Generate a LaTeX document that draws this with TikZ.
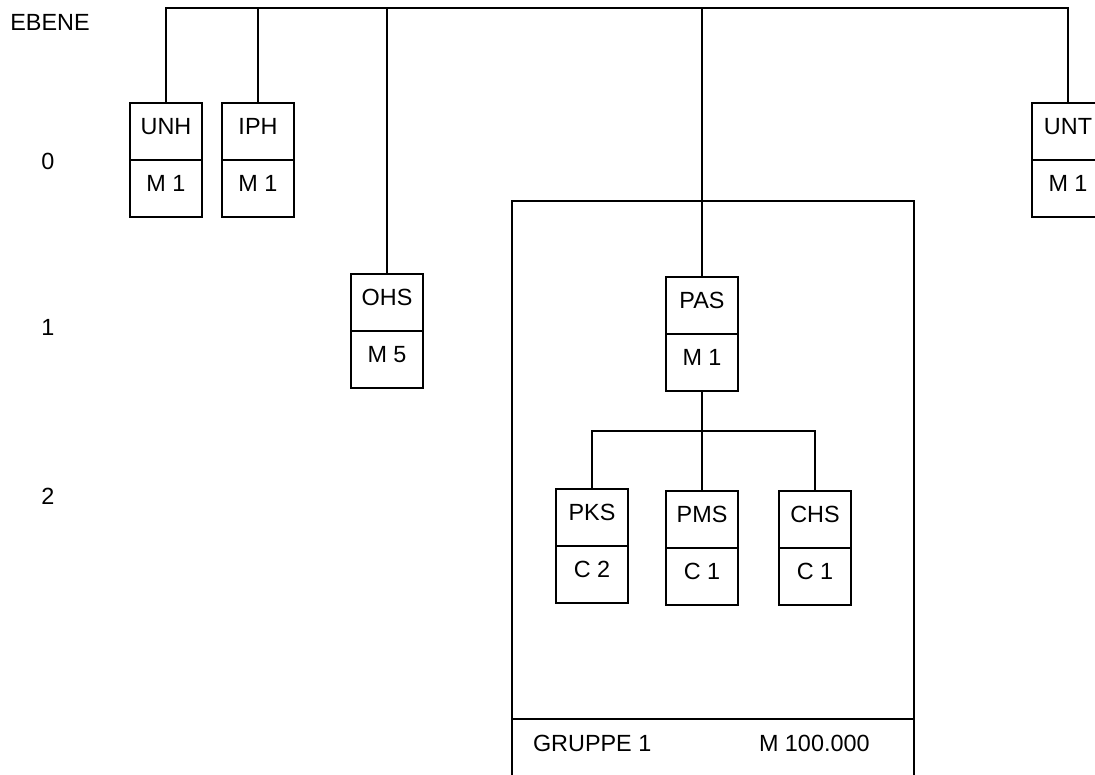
\documentclass[tikz,border=0pt]{standalone}
\usepackage{fontspec}
\setmainfont{Liberation Sans}
\usetikzlibrary{positioning}

\begin{document}
\begin{tikzpicture}[x=1pt, y=-1pt, line width=1.6pt,
  every node/.style={font=\fontsize{23.4}{28}\selectfont, inner sep=0pt, outer sep=0pt},
  unit/.style={draw, minimum width=72pt, minimum height=57pt, text height=16.5pt, text depth=10pt},
  ebene/.style={anchor=center}]
  \useasboundingbox (0,0) rectangle (1095,774);

  % Ebenen
  \node[ebene] (ebene) at (50,22) {EBENE};
  \node[ebene] (e0) at (48,161) {0};
  \node[ebene] (e1) at (48,327) {1};
  \node[ebene] (e2) at (48,496) {2};

  % Gruppe 1
  \node[draw, anchor=north west, minimum width=402pt, minimum height=518pt] (grp) at (512,201) {};
  \node[draw, below=0pt of grp, minimum width=402pt, minimum height=80pt] (grpfoot) {};
  \node[anchor=west] (grpname) at (533,743) {GRUPPE 1};
  \node[anchor=west] (grpsize) at (759,743) {M 100.000};

  % Ebene 0
  \node[unit, anchor=north] (unh) at (166,103) {UNH};
  \node[unit, below=0pt of unh] (unhm) {M 1};
  \node[unit, anchor=north] (iph) at (258,103) {IPH};
  \node[unit, below=0pt of iph] (iphm) {M 1};
  \node[unit, anchor=north] (unt) at (1068,103) {UNT};
  \node[unit, below=0pt of unt] (untm) {M 1};

  % Ebene 1
  \node[unit, anchor=north] (ohs) at (387,274) {OHS};
  \node[unit, below=0pt of ohs] (ohsm) {M 5};
  \node[unit, anchor=north] (pas) at (702,277) {PAS};
  \node[unit, below=0pt of pas] (pasm) {M 1};

  % Ebene 2
  \node[unit, anchor=north] (pks) at (592,489) {PKS};
  \node[unit, below=0pt of pks] (pksm) {C 2};
  \node[unit, anchor=north] (pms) at (702,491) {PMS};
  \node[unit, below=0pt of pms] (pmsm) {C 1};
  \node[unit, anchor=north] (chs) at (815,491) {CHS};
  \node[unit, below=0pt of chs] (chsm) {C 1};

  \coordinate (top) at (166,8);
  \coordinate (fork) at (702,431);

  \draw (unh.north) |- (top) -| (unt.north);
  \draw (iph.north) -- (iph.north |- top);
  \draw (ohs.north) -- (ohs.north |- top);
  \draw (pas.north) -- (pas.north |- top);
  \draw (pasm.south) -- (pms.north);
  \draw (pks.north) |- (fork) -| (chs.north);
\end{tikzpicture}
\end{document}
